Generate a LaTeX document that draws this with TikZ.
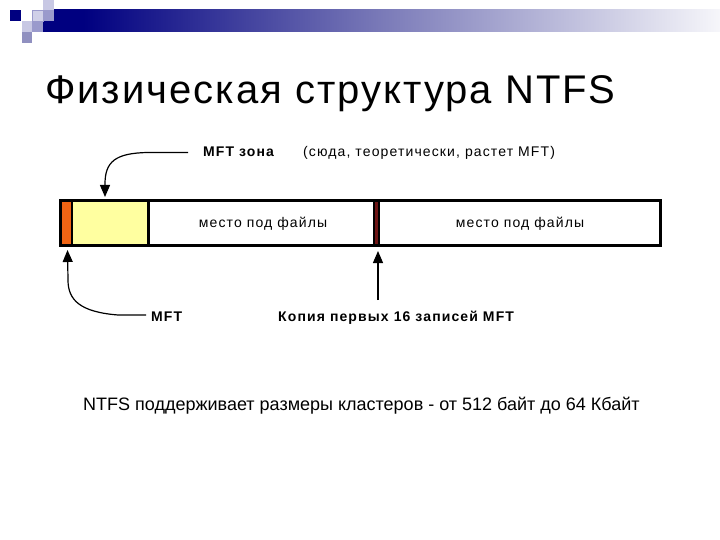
\documentclass[tikz,border=0pt]{standalone}
\usepackage{fontspec}
\setmainfont{Liberation Sans}
\usetikzlibrary{arrows.meta}
\definecolor{navyC}{RGB}{0,0,128}
\definecolor{midC}{RGB}{122,122,184}
\definecolor{paleC}{RGB}{246,246,250}
\definecolor{lavA}{RGB}{208,208,232}
\definecolor{lavB}{RGB}{200,200,228}
\definecolor{lavC}{RGB}{154,154,204}
\definecolor{lavD}{RGB}{144,144,192}
\definecolor{orangeC}{RGB}{240,100,20}
\definecolor{yellowC}{RGB}{255,255,160}
\definecolor{redC}{RGB}{110,20,20}
\pgfdeclarehorizontalshading{hdr}{100bp}{color(0bp)=(navyC); color(25bp)=(navyC); color(28bp)=(navyC); color(50bp)=(midC); color(75bp)=(paleC); color(100bp)=(paleC)}
\tikzset{
  cell/.style={inner sep=0pt, minimum height=43, anchor=west},
  lbl/.style={inner sep=0pt, anchor=base west, font=\fontsize{14}{16}\selectfont\addfontfeatures{LetterSpace=8}},
  blbl/.style={lbl, font=\fontsize{14}{16}\selectfont\bfseries\addfontfeatures{LetterSpace=8}},
  arr/.style={line width=1.2pt, -{Triangle[width=10pt,length=12pt]}},
}
\begin{document}
\begin{tikzpicture}[x=1pt,y=-1pt]
\useasboundingbox (0,0) rectangle (720,540);
% header decoration
\shade[shading=hdr] (43,10) rectangle (720,32);
\fill[navyC] (10,10) rectangle (21,21);
\fill[lavA] (32,10) rectangle (43,21);
\draw[lavC, line width=0.6pt] (32,10) rectangle (43,21);
\fill[lavB] (43,0) rectangle (54,10);
\fill[lavC] (43,10) rectangle (54,21);
\fill[lavB] (22,21) rectangle (32,32);
\fill[lavC] (32,21) rectangle (43,32);
\fill[lavD] (22,32) rectangle (32,43);
% title
\node[inner sep=0pt, anchor=base west, font=\fontsize{40}{44}\selectfont\addfontfeatures{LetterSpace=5}] (title) at (45,104) {Физическая структура NTFS};
% bar
\node[cell, fill=orangeC, minimum width=11] (mft) at (61,223) {};
\node[cell, fill=yellowC, minimum width=76] (zone) at (72,223) {};
\node[cell, fill=redC, minimum width=4] (copy) at (374,223) {};
\draw[line width=3pt] (60,201) rectangle (660,245);
\draw[line width=2pt] (72,201) -- (72,245);
\draw[line width=3pt] (148,201) -- (148,245);
\draw[line width=2pt] (374,201) -- (374,245);
\draw[line width=2pt] (378.5,201) -- (378.5,245);
\node[lbl, anchor=base] (f1) at (263,228) {место под файлы};
\node[lbl, anchor=base] (f2) at (520,228) {место под файлы};
% labels
\node[blbl] (lzone) at (203,157) {MFT зона};
\node[lbl] (note) at (303,157) {(сюда, теоретически, растет MFT)};
\node[blbl] (lmft) at (151,321) {MFT};
\node[blbl] (lcopy) at (278,321) {Копия первых 16 записей MFT};
% arrows
\coordinate (zt) at (105,197);
\coordinate (mt) at (67.5,250);
\coordinate (ct) at (378,251);
\draw[arr] (188,152.5) -- (148,152.5) .. controls (115,153) and (105,162) .. (105,184) -- (zt);
\draw[arr] (146,315) -- (118,315) .. controls (80,312) and (68,300) .. (68,280) -- (mt);
\draw[arr] (378,300) -- (ct);
% bottom text
\node[inner sep=0pt, anchor=base west, font=\fontsize{18}{20}\selectfont] (bottom) at (83,410) {NTFS поддерживает размеры кластеров - от 512 байт до 64 Кбайт};
\end{tikzpicture}
\end{document}
